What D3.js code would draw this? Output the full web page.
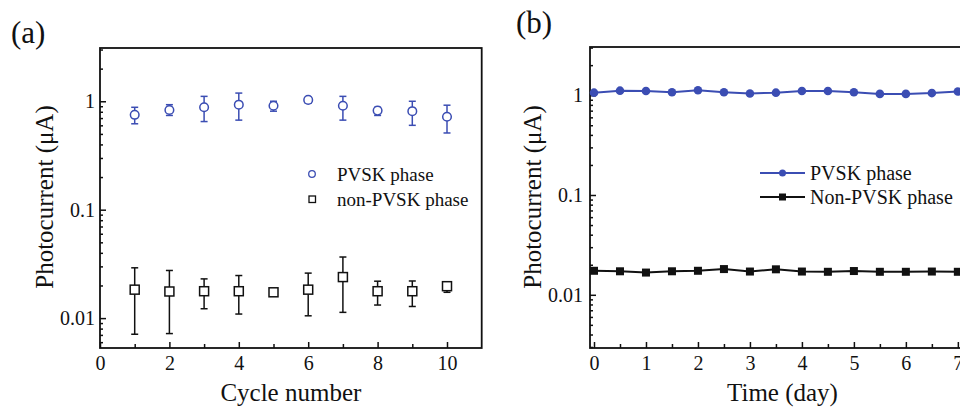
<!doctype html>
<html>
<script src="https://d3js.org/d3.v7.min.js"></script>
<head>
<meta charset="UTF-8">
<title>Photocurrent</title>
<style>
  body { margin: 0; background: #fff; }
  text { font-family: "Liberation Serif", "Times New Roman", serif; fill: #111; }
</style>
</head>
<body>
<script>
// ---- panel (a): photocurrent vs cycle number ----
var cycles = [1, 2, 3, 4, 5, 6, 7, 8, 9, 10];
var pvskA     = [0.75, 0.83, 0.88, 0.93, 0.91, 1.03, 0.91, 0.82, 0.81, 0.72];
var pvskAHi   = [0.88, 0.93, 1.11, 1.19, 1.00, 1.07, 1.11, 0.88, 1.00, 0.92];
var pvskALo   = [0.62, 0.74, 0.65, 0.67, 0.81, 0.96, 0.67, 0.74, 0.60, 0.51];
var nonA      = [0.0183, 0.0176, 0.0177, 0.0177, 0.0173, 0.0183, 0.0239, 0.0177, 0.0177, 0.0197];
var nonAHi    = [0.0291, 0.0275, 0.0230, 0.0247, 0.0182, 0.0260, 0.0366, 0.0219, 0.0220, 0.0211];
var nonALo    = [0.0071, 0.0072, 0.0122, 0.0109, 0.0165, 0.0105, 0.0113, 0.0132, 0.0128, 0.0173];
var xTicksA   = [0, 2, 4, 6, 8, 10];

// ---- panel (b): photocurrent vs time ----
var days  = [0, 0.5, 1, 1.5, 2, 2.5, 3, 3.5, 4, 4.5, 5, 5.5, 6, 6.5, 7];
var pvskB = [1.06, 1.11, 1.10, 1.07, 1.12, 1.07, 1.04, 1.06, 1.10, 1.10, 1.07, 1.03, 1.03, 1.05, 1.09];
var nonB  = [0.0174, 0.0172, 0.0167, 0.0172, 0.0174, 0.0181, 0.0171, 0.0180, 0.0171, 0.0170, 0.0173, 0.0170, 0.0170, 0.0171, 0.0170];
var xTicksB = [0, 1, 2, 3, 4, 5, 6, 7];

var yMajor = [0.01, 0.1, 1];
var yLabels = ["0.01", "0.1", "1"];

var blue = "#3b4db3";

var svg = d3.select("body").append("svg")
    .attr("width", 960).attr("height", 407);

function minorLog(lo, hi) {
    var out = [];
    [0.001, 0.01, 0.1, 1].forEach(function(d) {
        for (var k = 2; k <= 9; k++) {
            var v = d * k;
            if (v > lo && v < hi) out.push(v);
        }
    });
    return out;
}

// draws frame + axes, returns scales
function drawFrame(cfg) {
    var x = d3.scaleLinear().domain(cfg.xDomain).range([cfg.left, cfg.right]);
    var y = d3.scaleLog().domain(cfg.yDomain).range([cfg.bottom, cfg.top]);
    var g = svg.append("g");

    // x axis: major + minor, ticks pointing inward
    g.append("g").attr("transform", "translate(0," + cfg.bottom + ")")
        .call(d3.axisBottom(x).tickValues(cfg.xMinor).tickSize(-4).tickFormat(""));
    g.append("g").attr("transform", "translate(0," + cfg.bottom + ")")
        .call(d3.axisBottom(x).tickValues(cfg.xTicks).tickSize(-6).tickPadding(8).tickFormat(d3.format("d")))
        .selectAll("text").style("font-size", "20px");

    // y axis
    g.append("g").attr("transform", "translate(" + cfg.left + ",0)")
        .call(d3.axisLeft(y).tickValues(minorLog(cfg.yDomain[0], cfg.yDomain[1])).tickSize(-3).tickFormat(""));
    g.append("g").attr("transform", "translate(" + cfg.left + ",0)")
        .call(d3.axisLeft(y).tickValues(yMajor).tickSize(-6).tickPadding(cfg.yPad)
            .tickFormat(function(d, i) { return yLabels[i]; }))
        .selectAll("text").style("font-size", "20px");

    g.selectAll(".domain").remove();
    g.selectAll(".tick line").attr("stroke", "#111").attr("stroke-width", 1.5);

    // frame
    g.append("rect")
        .attr("x", cfg.left).attr("y", cfg.top)
        .attr("width", cfg.right - cfg.left).attr("height", cfg.bottom - cfg.top)
        .attr("fill", "none").attr("stroke", "#111").attr("stroke-width", 1.8);

    // titles
    g.append("text").attr("x", (cfg.left + cfg.right) / 2).attr("y", 401)
        .attr("text-anchor", "middle").style("font-size", "25px").text(cfg.xTitle);
    g.append("text")
        .attr("transform", "translate(" + cfg.yTitleX + ",197)rotate(-90)")
        .attr("text-anchor", "middle").style("font-size", "25px").text("Photocurrent (\u03bcA)");
    g.append("text").attr("x", cfg.labelX).attr("y", cfg.labelY)
        .style("font-size", "31px").text(cfg.label);
    return { x: x, y: y };
}

// ---------- panel (a) ----------
var A = drawFrame({
    left: 100, right: 481.7, top: 48, bottom: 348,
    xDomain: [0, 11], yDomain: [0.0053, 3.1],
    xTicks: xTicksA, xMinor: [1, 3, 5, 7, 9],
    yPad: 5, xTitle: "Cycle number", yTitleX: 53,
    label: "(a)", labelX: 11, labelY: 43
});

function errorBars(sc, xs, hi, lo, color) {
    var g = svg.append("g").attr("stroke", color).attr("stroke-width", 1.5);
    xs.forEach(function(d, i) {
        var cx = sc.x(d);
        g.append("line").attr("x1", cx).attr("x2", cx).attr("y1", sc.y(hi[i])).attr("y2", sc.y(lo[i]));
        g.append("line").attr("x1", cx - 3.5).attr("x2", cx + 3.5).attr("y1", sc.y(hi[i])).attr("y2", sc.y(hi[i]));
        g.append("line").attr("x1", cx - 3.5).attr("x2", cx + 3.5).attr("y1", sc.y(lo[i])).attr("y2", sc.y(lo[i]));
    });
}
errorBars(A, cycles, pvskAHi, pvskALo, blue);
errorBars(A, cycles, nonAHi, nonALo, "#111");

svg.append("g").selectAll("circle").data(cycles).join("circle")
    .attr("cx", function(d) { return A.x(d); })
    .attr("cy", function(d, i) { return A.y(pvskA[i]); })
    .attr("r", 4.3).attr("fill", "#fff").attr("stroke", blue).attr("stroke-width", 1.5);
svg.append("g").selectAll("rect").data(cycles).join("rect")
    .attr("x", function(d) { return A.x(d) - 4.5; })
    .attr("y", function(d, i) { return A.y(nonA[i]) - 4.5; })
    .attr("width", 9).attr("height", 9)
    .attr("fill", "#fff").attr("stroke", "#111").attr("stroke-width", 1.5);

// legend (a)
var legA = svg.append("g");
legA.append("circle").attr("cx", 312).attr("cy", 174).attr("r", 3.3)
    .attr("fill", "none").attr("stroke", blue).attr("stroke-width", 1.3);
legA.append("rect").attr("x", 309).attr("y", 196).attr("width", 6.5).attr("height", 6.5)
    .attr("fill", "none").attr("stroke", "#111").attr("stroke-width", 1.3);
legA.append("text").attr("x", 337).attr("y", 181).style("font-size", "19px").text("PVSK phase");
legA.append("text").attr("x", 337).attr("y", 206).style("font-size", "19px").text("non-PVSK phase");

// ---------- panel (b) ----------
var B = drawFrame({
    left: 590, right: 975, top: 47, bottom: 348,
    xDomain: [-0.077, 7.33], yDomain: [0.00293, 3.04],
    xTicks: xTicksB, xMinor: [0.5, 1.5, 2.5, 3.5, 4.5, 5.5, 6.5],
    yPad: 7, xTitle: "Time (day)", yTitleX: 541,
    label: "(b)", labelX: 516, labelY: 33
});

var line = d3.line();
svg.append("path")
    .attr("d", line(days.map(function(d, i) { return [B.x(d), B.y(pvskB[i])]; })))
    .attr("fill", "none").attr("stroke", blue).attr("stroke-width", 2);
svg.append("path")
    .attr("d", line(days.map(function(d, i) { return [B.x(d), B.y(nonB[i])]; })))
    .attr("fill", "none").attr("stroke", "#111").attr("stroke-width", 2);
svg.append("g").selectAll("circle").data(days).join("circle")
    .attr("cx", function(d) { return B.x(d); })
    .attr("cy", function(d, i) { return B.y(pvskB[i]); })
    .attr("r", 4.3).attr("fill", blue);
svg.append("g").selectAll("rect").data(days).join("rect")
    .attr("x", function(d) { return B.x(d) - 4; })
    .attr("y", function(d, i) { return B.y(nonB[i]) - 4; })
    .attr("width", 8).attr("height", 8).attr("fill", "#111");

// legend (b)
var legB = svg.append("g");
legB.append("line").attr("x1", 760).attr("x2", 805).attr("y1", 173).attr("y2", 173)
    .attr("stroke", blue).attr("stroke-width", 2);
legB.append("circle").attr("cx", 782.5).attr("cy", 173).attr("r", 3.5).attr("fill", blue);
legB.append("line").attr("x1", 760).attr("x2", 805).attr("y1", 197).attr("y2", 197)
    .attr("stroke", "#111").attr("stroke-width", 2);
legB.append("rect").attr("x", 779).attr("y", 193.5).attr("width", 7).attr("height", 7).attr("fill", "#111");
legB.append("text").attr("x", 810).attr("y", 180).style("font-size", "20px").text("PVSK phase");
legB.append("text").attr("x", 810).attr("y", 204).style("font-size", "20px").text("Non-PVSK phase");
</script>
</body>
</html>
